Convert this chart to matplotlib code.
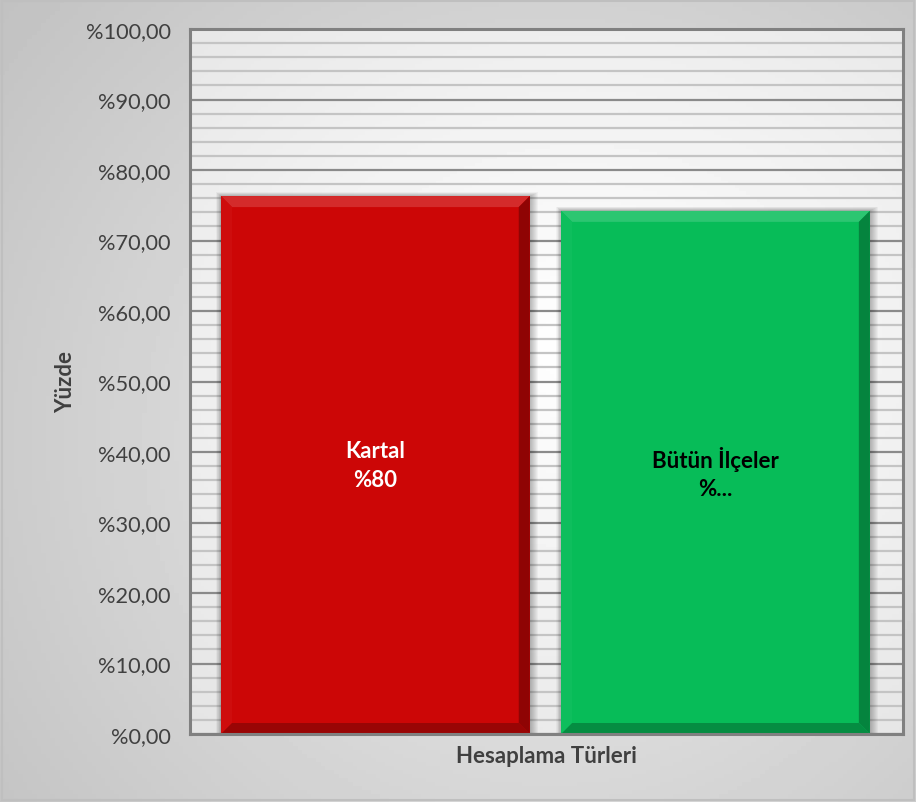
import numpy as np
import matplotlib
matplotlib.use('Agg')
import matplotlib.pyplot as plt
from matplotlib.patches import Polygon, Rectangle
from matplotlib.ticker import MultipleLocator, FuncFormatter

# ---------------- data ----------------
series_names = ['Kartal', 'Bütün İlçeler']
series_values = [76.3, 74.2]
bar_labels = ['Kartal\n%80', 'Bütün İlçeler\n%...']
bar_colors = ['#CC0606', '#07BC58']
label_colors = ['white', 'black']
y_ticks = np.arange(0, 101, 10)

plt.rcParams['font.family'] = ['Lato', 'DejaVu Sans']

W, H, DPI = 9.16, 8.03, 100
fig = plt.figure(figsize=(W, H), dpi=DPI)

# background gradient for the whole chart
bg = fig.add_axes([0, 0, 1, 1], zorder=-10)
yy, xx = np.mgrid[0:1:200j, 0:1:200j]
r = np.sqrt(((xx - 0.6) / 1.0) ** 2 + ((yy - 0.45) / 1.1) ** 2)
g = np.clip(0.93 - 0.22 * r, 0.76, 0.93)
bg.imshow(g, cmap='gray', vmin=0, vmax=1, extent=[0, 1, 0, 1], aspect='auto', origin='lower')
bg.add_patch(Rectangle((0.002, 0.002), 0.996, 0.996, fill=False, ec='#bfbfbf', lw=1.5,
                       transform=bg.transAxes))
bg.set_axis_off()

# plot area: px 190..903, 30..735
left, right, top, bottom = 190, 903, 30, 735
ax = fig.add_axes([left / 916, (803 - bottom) / 803, (right - left) / 916, (bottom - top) / 803])
ax.set_xlim(0, 1)
ax.set_ylim(0, 100)

# plot area gradient
pg = np.clip(1.0 - 0.12 * np.sqrt(((xx - 0.55) / 1.0) ** 2 + ((yy - 0.55) / 0.8) ** 2), 0.88, 1.0)
ax.imshow(pg, cmap='gray', vmin=0, vmax=1, extent=[0, 1, 0, 100], aspect='auto',
          origin='lower', zorder=0)

ax.yaxis.set_major_locator(MultipleLocator(10))
ax.yaxis.set_minor_locator(MultipleLocator(2))
ax.set_yticks(y_ticks)
ax.yaxis.set_major_formatter(FuncFormatter(lambda v, p: '%' + f'{v:.2f}'.replace('.', ',')))
ax.grid(True, which='minor', axis='y', color='#c4c4c4', lw=1.6, zorder=1)
ax.grid(True, which='major', axis='y', color='#8a8a8a', lw=1.6, zorder=1)
ax.set_axisbelow(True)
ax.tick_params(axis='y', which='both', length=0, labelsize=15.7, labelcolor='#404040', pad=14)
ax.tick_params(axis='x', length=0, labelbottom=False)
for s in ax.spines.values():
    s.set_color('#808080')
    s.set_linewidth(2.2)
    s.set_zorder(6)

ax.set_ylabel('Yüzde', fontsize=16, fontweight='bold', color='#404040', labelpad=7)
ax.set_xlabel('Hesaplama Türleri', fontsize=16, fontweight='bold', color='#404040', labelpad=8)

# bars
offsets = [-0.24, 0.237]
width = 0.433
px_x = 1.0 / (right - left)
px_y = 100.0 / (bottom - top)
bev = 11


def shade(c, f):
    rgb = np.array(matplotlib.colors.to_rgb(c))
    if f >= 0:
        return tuple(rgb + (1 - rgb) * f)
    return tuple(rgb * (1 + f))


for i, (v, c) in enumerate(zip(series_values, bar_colors)):
    x0 = 0.5 + offsets[i] - width / 2
    x1 = x0 + width
    # soft shadow
    for k in range(8, 0, -1):
        ax.add_patch(Rectangle((x0 - k * px_x * 0.6, 0), width + k * px_x * 1.6, v + k * px_y * 0.5,
                               fc='black', ec='none', alpha=0.035, zorder=2))
    ax.bar(0.5 + offsets[i], v, width=width, color=c, zorder=3, linewidth=0)
    bx, by = bev * px_x, bev * px_y
    top_poly = [(x0, v), (x1, v), (x1 - bx, v - by), (x0 + bx, v - by)]
    bot_poly = [(x0, 0), (x1, 0), (x1 - bx, by), (x0 + bx, by)]
    l_poly = [(x0, 0), (x0, v), (x0 + bx, v - by), (x0 + bx, by)]
    r_poly = [(x1, 0), (x1, v), (x1 - bx, v - by), (x1 - bx, by)]
    ax.add_patch(Polygon(top_poly, fc=shade(c, 0.15), ec='none', zorder=4))
    ax.add_patch(Polygon(l_poly, fc=shade(c, 0.03), ec='none', zorder=4))
    ax.add_patch(Polygon(r_poly, fc=shade(c, -0.3), ec='none', zorder=4))
    ax.add_patch(Polygon(bot_poly, fc=shade(c, -0.25), ec='none', zorder=4))
    ax.text(0.5 + offsets[i], v / 2, bar_labels[i], ha='center', va='center',
            fontsize=16, fontweight='bold', color=label_colors[i], linespacing=1.45, zorder=5)

fig.savefig('out.png', dpi=DPI)
